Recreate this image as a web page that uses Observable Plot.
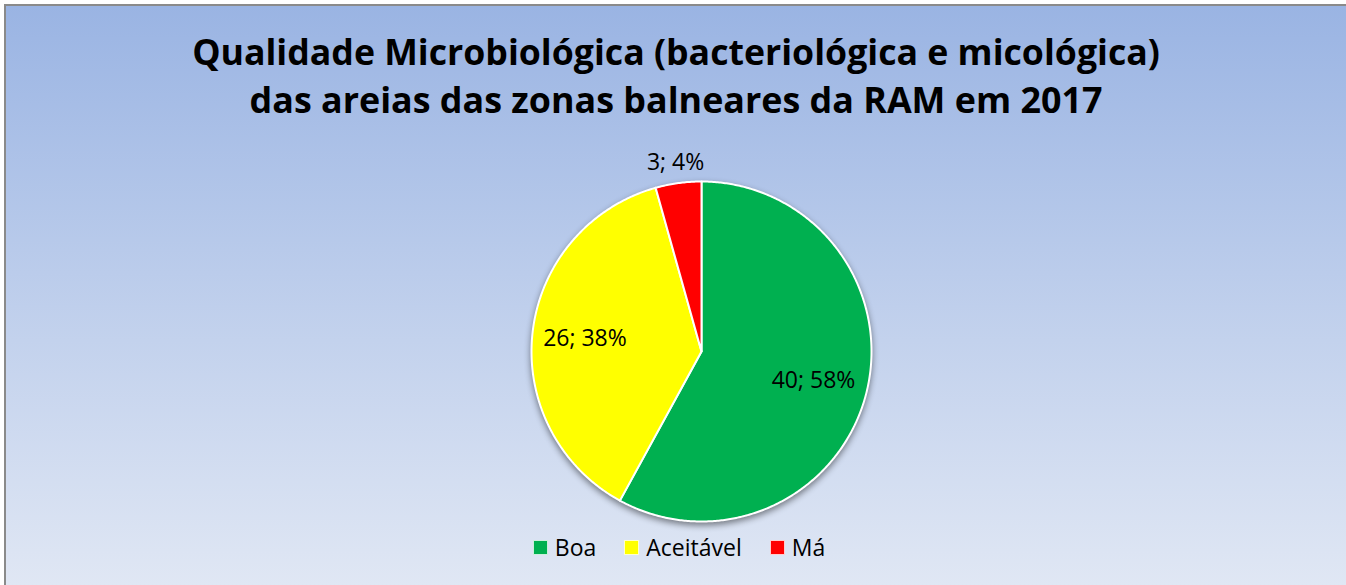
<!DOCTYPE html>
<html><head><meta charset="utf-8">
<script src="https://cdn.jsdelivr.net/npm/d3@7"></script>
<script src="https://cdn.jsdelivr.net/npm/@observablehq/plot@0.6"></script>
<style>
html,body{margin:0;padding:0;width:1346px;height:585px;overflow:hidden;background:#fff;position:relative}
#bg{position:absolute;left:4px;top:4px;width:1342px;height:600px;box-sizing:border-box;border-left:2px solid #8a8a8a;border-top:2px solid #8a8a8a;background:linear-gradient(to bottom,#9ab4e3 0px,#bfcfec 300px,#e0e7f4 580px)}
.tl{position:absolute;left:0;width:1352px;text-align:center;font-family:"Open Sans",sans-serif;font-weight:700;color:#000;white-space:nowrap;line-height:1}
.tl span{display:inline-block}
#plot{position:absolute;left:0;top:140px}
#legend{position:absolute;left:0;width:1358px;top:531px;display:flex;justify-content:center;align-items:center;font-family:"Open Sans",sans-serif;font-size:23px;color:#000}
#legend .it{display:flex;align-items:center;margin:0 14px}
#legend .sw{width:13px;height:13px;border:1px solid rgba(255,255,255,0.8);margin-right:7px}
</style>
</head><body>
<div id="bg"></div>
<div class="tl" id="t1" style="top:34px"><span>Qualidade Microbiológica (bacteriológica e micológica)</span></div>
<div class="tl" id="t2" style="top:82px"><span>das areias das zonas balneares da RAM em 2017</span></div>
<div id="plot"></div>
<div id="legend"></div>
<script>
const categories = ["Boa", "Aceitável", "Má"];
const values = [40, 26, 3];
const colors = ["#00b050", "#ffff00", "#ff0000"];
const titleLines = ["Qualidade Microbiológica (bacteriológica e micológica)", "das areias das zonas balneares da RAM em 2017"];

// fit title widths
function fit(id, target) {
  const el = document.getElementById(id);
  const sp = el.querySelector("span");
  let fs = 32;
  el.style.fontSize = fs + "px";
  const w = sp.getBoundingClientRect().width;
  fs = fs * target / w;
  el.style.fontSize = fs + "px";
}
fit("t1", 968);
fit("t2", 853);

const total = d3.sum(values);
const pie = d3.pie().sort(null).value(d => d.value)(categories.map((c, i) => ({name: c, value: values[i]})));

// slice outlines in unit-circle coordinates (angle clockwise from 12 o'clock)
const pts = [];
for (const a of pie) {
  pts.push({name: a.data.name, u: 0, v: 0});
  const n = Math.max(2, Math.ceil((a.endAngle - a.startAngle) / (Math.PI / 360)));
  for (let k = 0; k <= n; k++) {
    const t = a.startAngle + (a.endAngle - a.startAngle) * k / n;
    pts.push({name: a.data.name, u: Math.sin(t), v: Math.cos(t)});
  }
  pts.push({name: a.data.name, u: 0, v: 0});
}

const labelR = [0.68, 0.69, 1.12];
const labels = pie.map((a, i) => {
  const m = (a.startAngle + a.endAngle) / 2;
  return {
    u: labelR[i] * Math.sin(m), v: labelR[i] * Math.cos(m),
    text: `${a.data.value}; ${Math.round(a.data.value / total * 100)}%`
  };
});

const W = 1346, H = 445, R = 170, cx = 701, cy = 211;
const chart = Plot.plot({
  width: W, height: H,
  margin: 0,
  x: {domain: [-cx / R, (W - cx) / R], axis: null},
  y: {domain: [-(H - cy) / R, cy / R], axis: null},
  color: {domain: categories, range: colors},
  style: {background: "transparent", overflow: "visible"},
  marks: [
    Plot.line(pts, {x: "u", y: "v", z: "name", fill: "name", stroke: "white", strokeWidth: 2, strokeLinejoin: "round", curve: "linear"}),
    Plot.text(labels, {x: "u", y: "v", text: "text", fontSize: 23, fontFamily: "Open Sans", fill: "#000"})
  ]
});
const lineG = chart.querySelector('g[aria-label="line"]');
if (lineG) lineG.style.filter = "drop-shadow(0px 3px 3px rgba(0,0,0,0.45))";
document.getElementById("plot").appendChild(chart);

const leg = document.getElementById("legend");
categories.forEach((c, i) => {
  const it = document.createElement("div"); it.className = "it";
  const sw = document.createElement("div"); sw.className = "sw"; sw.style.background = colors[i];
  const tx = document.createElement("span"); tx.textContent = c;
  it.appendChild(sw); it.appendChild(tx); leg.appendChild(it);
});
</script>
</body></html>
